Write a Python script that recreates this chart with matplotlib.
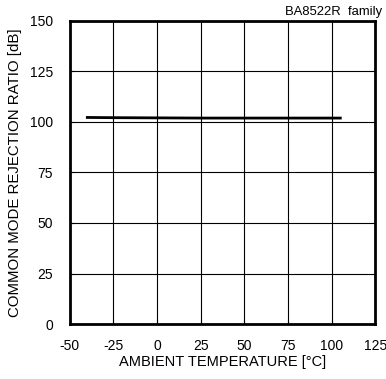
import matplotlib
matplotlib.use("Agg")
import matplotlib.pyplot as plt

# data
temperature = [-40, -25, 0, 25, 50, 75, 105]
cmrr = [102.2, 102.1, 102.0, 101.9, 101.9, 101.9, 101.9]

x_ticks = [-50, -25, 0, 25, 50, 75, 100, 125]
y_ticks = [0, 25, 50, 75, 100, 125, 150]

plt.rcParams['font.family'] = ['Liberation Sans', 'DejaVu Sans']
plt.rcParams['axes.unicode_minus'] = False

fig = plt.figure(figsize=(3.86, 3.79), dpi=100)
ax = fig.add_axes([0.181, 0.145, 0.791, 0.80])

ax.plot(temperature, cmrr, color='black', linewidth=2)

ax.set_xlim(-50, 125)
ax.set_ylim(0, 150)
ax.set_xticks(x_ticks)
ax.set_yticks(y_ticks)
ax.grid(True, color='black', linewidth=0.8)
ax.tick_params(direction='in', length=3, labelsize=10)
ax.tick_params(axis='x', pad=11)
ax.tick_params(axis='y', pad=12)
for s in ax.spines.values():
    s.set_linewidth(2)

ax.set_xlabel('AMBIENT TEMPERATURE [°C]', fontsize=10.5, labelpad=1)
ax.set_ylabel('COMMON MODE REJECTION RATIO [dB]', fontsize=10.8, labelpad=6)
# title sits a little past the right edge of the frame
fig.text(0.99, 0.952, 'BA8522R  family', fontsize=9.4, ha='right', va='bottom')

fig.savefig('out.png', dpi=100)
